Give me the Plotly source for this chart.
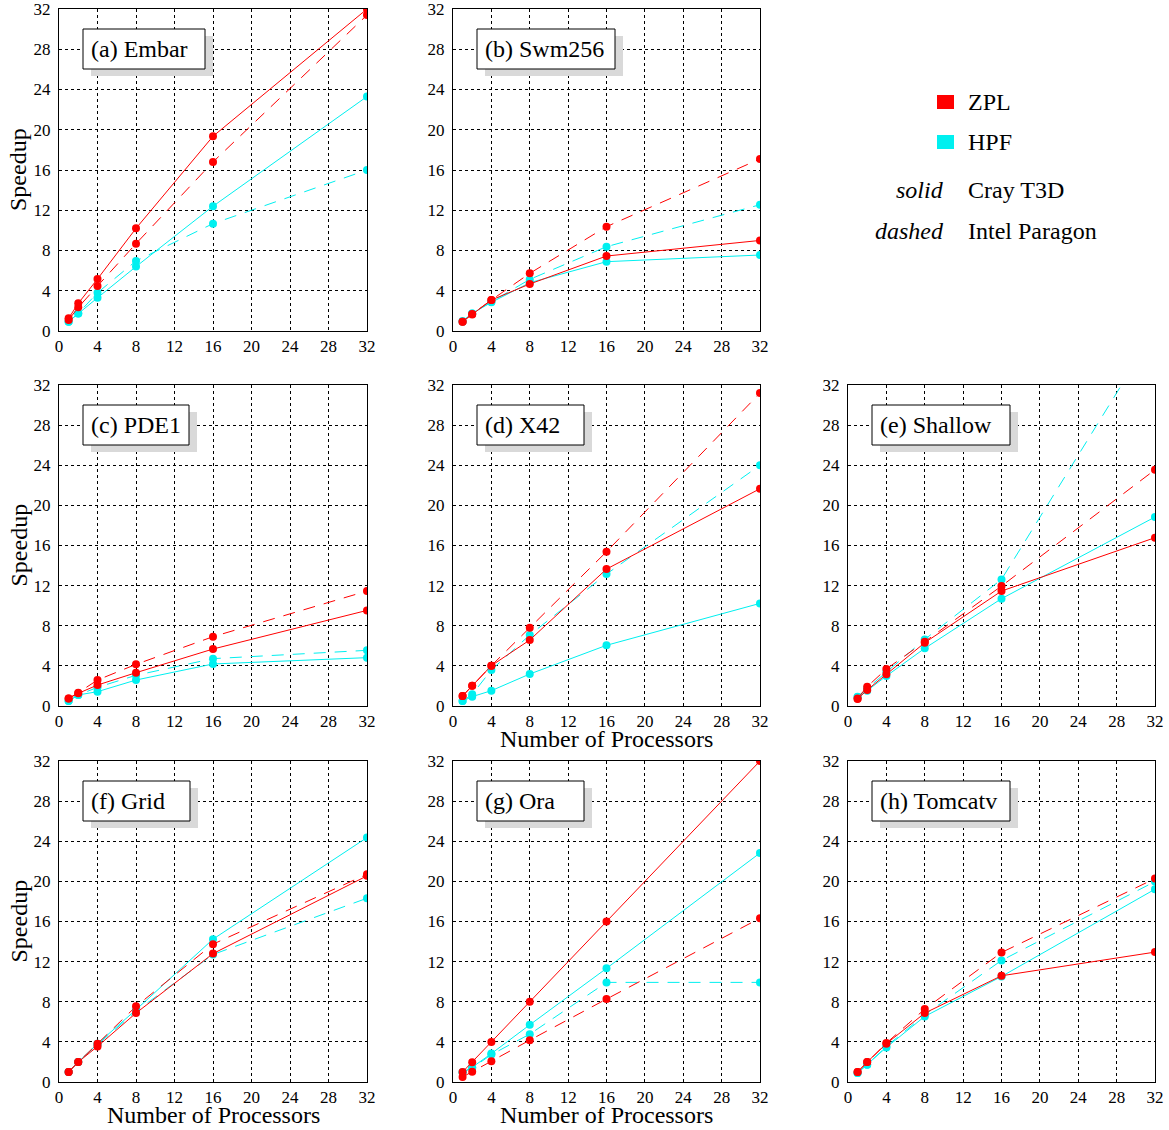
import plotly.graph_objects as go

W, H = 1169, 1130

# ---------------- data ----------------
procs = [1, 2, 4, 8, 16, 32]
x_ticks = [0, 4, 8, 12, 16, 20, 24, 28, 32]
y_ticks = [0, 4, 8, 12, 16, 20, 24, 28, 32]

panel_labels = ["(a) Embar", "(b) Swm256", "(c) PDE1", "(d) X42",
                "(e) Shallow", "(f) Grid", "(g) Ora", "(h) Tomcatv"]

# ZPL on Cray T3D (red, solid)
zpl_t3d = [
    [1.26, 2.75, 5.17, 10.2, 19.35, 32.0],    # Embar
    [0.93, 1.65, 3.08, 4.67, 7.45, 9.0],      # Swm256
    [0.76, 1.26, 2.09, 3.32, 5.68, 9.53],     # PDE1
    [1.0, 2.03, 4.02, 6.58, 13.65, 21.66],    # X42
    [0.7, 1.6, 3.16, 6.31, 11.46, 16.78],     # Shallow
    [1.0, 1.99, 3.55, 6.87, 12.8, 20.55],     # Grid
    [1.0, 1.97, 4.0, 8.0, 16.0, 32.0],        # Ora
    [1.0, 1.99, 3.82, 6.87, 10.59, 12.95],    # Tomcatv
]
# ZPL on Intel Paragon (red, dashed)
zpl_paragon = [
    [1.1, 2.35, 4.47, 8.68, 16.8, 31.4],
    [0.93, 1.69, 3.08, 5.73, 10.37, 17.1],
    [0.76, 1.33, 2.59, 4.15, 6.91, 11.46],
    [1.0, 2.03, 4.02, 7.8, 15.38, 31.2],
    [0.76, 1.93, 3.69, 6.41, 11.96, 23.55],
    [1.0, 1.99, 3.82, 7.54, 13.74, 20.71],
    [0.5, 1.03, 2.07, 4.17, 8.27, 16.33],
    [1.0, 1.99, 3.88, 7.27, 12.91, 20.28],
]
# HPF on Cray T3D (cyan, solid)
hpf_t3d = [
    [0.93, 1.75, 3.3, 6.4, 12.4, 23.3],
    [1.0, 1.75, 2.85, 4.8, 6.89, 7.55],
    [0.5, 1.1, 1.43, 2.59, 4.19, 4.82],
    [0.5, 0.93, 1.53, 3.19, 6.05, 10.23],
    [0.86, 1.53, 2.99, 5.75, 10.7, 18.84],
    [1.0, 1.99, 3.82, 7.2, 14.24, 24.37],
    [0.97, 1.47, 2.83, 5.7, 11.33, 22.83],
    [0.9, 1.73, 3.45, 6.54, 10.52, 19.22],
]
# HPF on Intel Paragon (cyan, dashed)
hpf_paragon = [
    [0.93, 1.75, 3.8, 6.96, 10.67, 16.0],
    [0.93, 1.75, 2.9, 5.13, 8.38, 12.55],
    [0.5, 1.1, 1.86, 3.06, 4.72, 5.55],
    [0.5, 1.16, 3.59, 7.08, 13.15, 24.0],
    [0.93, 1.76, 3.42, 6.64, 12.62, 37.4],
    [1.0, 1.99, 3.72, 7.04, 12.71, 18.32],
    [0.97, 1.4, 2.73, 4.77, 9.93, 9.93],
    [0.9, 1.73, 3.55, 6.7, 12.12, 19.98],
]

# ---------------- styling / layout ----------------
RED = "#ff0000"
CYAN = "#00f0f0"
FONT = "Liberation Serif"
BIG = 24

col_px = [(59, 367), (453, 760), (848, 1155)]
row_px = [(9, 331), (385, 706), (761, 1082)]
grid_pos = [(0, 0), (0, 1), (1, 0), (1, 1), (1, 2), (2, 0), (2, 1), (2, 2)]
box_w = [122, 138, 106, 107, 138, 107, 107, 138]


def px_x(p):
    return p / W


def px_y(p):
    return 1 - p / H


fig = go.Figure()
layout = dict(
    width=W, height=H,
    margin=dict(l=0, r=0, t=0, b=0, autoexpand=False),
    paper_bgcolor="white", plot_bgcolor="white",
    showlegend=False,
    font=dict(family=FONT, color="black"),
)
shapes = []
annotations = []

series = [
    (hpf_t3d, CYAN, "solid"),
    (hpf_paragon, CYAN, "12px,9px"),
    (zpl_t3d, RED, "solid"),
    (zpl_paragon, RED, "12px,9px"),
]

for i, (r, c) in enumerate(grid_pos):
    n = "" if i == 0 else str(i + 1)
    x0, x1 = col_px[c]
    y0, y1 = row_px[r]
    common = dict(
        range=[0, 32],
        showgrid=True, gridcolor="black", griddash="3px,3px", gridwidth=1,
        showline=True, mirror=True, linecolor="black", linewidth=1,
        zeroline=False, tickcolor="rgba(0,0,0,0)",
        tickfont=dict(family=FONT, size=17, color="black"), fixedrange=True,
        automargin=False, ticklabeloverflow="allow",
    )
    layout["xaxis" + n] = dict(
        domain=[px_x(x0), px_x(x1)], anchor="y" + n,
        tickvals=x_ticks, ticktext=[str(v) for v in x_ticks], ticks="",
        **common,
    )
    layout["yaxis" + n] = dict(
        domain=[px_y(y1), px_y(y0)], anchor="x" + n,
        tickvals=y_ticks, ticktext=[str(v) for v in y_ticks],
        ticks="outside", ticklen=4,
        **common,
    )
    for data, color, dash in series:
        fig.add_trace(go.Scatter(
            x=procs, y=data[i], xaxis="x" + n, yaxis="y" + n,
            mode="lines+markers",
            line=dict(color=color, width=1, dash=dash),
            marker=dict(color=color, size=8),
            hoverinfo="skip",
        ))
    # label box with shadow
    bx0 = x0 + 24
    by0 = y0 + 20
    bx1 = bx0 + box_w[i]
    by1 = by0 + 40
    shapes.append(dict(type="rect", xref="paper", yref="paper", layer="above",
                       x0=px_x(bx0 + 8), x1=px_x(bx1 + 8),
                       y0=px_y(by1 + 7), y1=px_y(by0 + 7),
                       fillcolor="#d9d9d9", line=dict(width=0)))
    shapes.append(dict(type="rect", xref="paper", yref="paper", layer="above",
                       x0=px_x(bx0), x1=px_x(bx1), y0=px_y(by1), y1=px_y(by0),
                       fillcolor="white", line=dict(color="black", width=1)))
    annotations.append(dict(text=panel_labels[i], xref="paper", yref="paper",
                            x=px_x(bx0 + 6), y=px_y((by0 + by1) / 2),
                            xanchor="left", yanchor="middle", showarrow=False,
                            font=dict(family=FONT, size=BIG, color="black")))

# axis titles
for r in range(3):
    yc = (row_px[r][0] + row_px[r][1]) / 2
    annotations.append(dict(text="Speedup", xref="paper", yref="paper",
                            x=px_x(18), y=px_y(yc), textangle=-90,
                            xanchor="center", yanchor="middle", showarrow=False,
                            font=dict(family=FONT, size=BIG, color="black")))
for (c, ypx) in [(1, 739), (0, 1115), (1, 1115)]:
    xc = (col_px[c][0] + col_px[c][1]) / 2
    annotations.append(dict(text="Number of Processors", xref="paper", yref="paper",
                            x=px_x(xc), y=px_y(ypx), xanchor="center", yanchor="middle",
                            showarrow=False,
                            font=dict(family=FONT, size=BIG, color="black")))

# legend (custom)
for color, ypx, name in [(RED, 102, "ZPL"), (CYAN, 142, "HPF")]:
    shapes.append(dict(type="rect", xref="paper", yref="paper",
                       x0=px_x(937), x1=px_x(954), y0=px_y(ypx + 7), y1=px_y(ypx - 7),
                       fillcolor=color, line=dict(width=0)))
    annotations.append(dict(text=name, xref="paper", yref="paper",
                            x=px_x(966), y=px_y(ypx), xanchor="left", yanchor="middle",
                            showarrow=False, font=dict(family=FONT, size=BIG, color="black")))
for style, ypx, name in [("solid", 190, "Cray T3D"), ("dashed", 231, "Intel Paragon")]:
    annotations.append(dict(text="<i>" + style + "</i>", xref="paper", yref="paper",
                            x=px_x(946), y=px_y(ypx), xanchor="right", yanchor="middle",
                            showarrow=False, font=dict(family=FONT, size=BIG, color="black")))
    annotations.append(dict(text=name, xref="paper", yref="paper",
                            x=px_x(966), y=px_y(ypx), xanchor="left", yanchor="middle",
                            showarrow=False, font=dict(family=FONT, size=BIG, color="black")))

layout["shapes"] = shapes
layout["annotations"] = annotations
fig.update_layout(**layout)
fig.write_html("out.html",
               config={"displayModeBar": False},
               post_script="document.body.style.margin='0';"
                           "document.body.style.overflow='hidden';")
